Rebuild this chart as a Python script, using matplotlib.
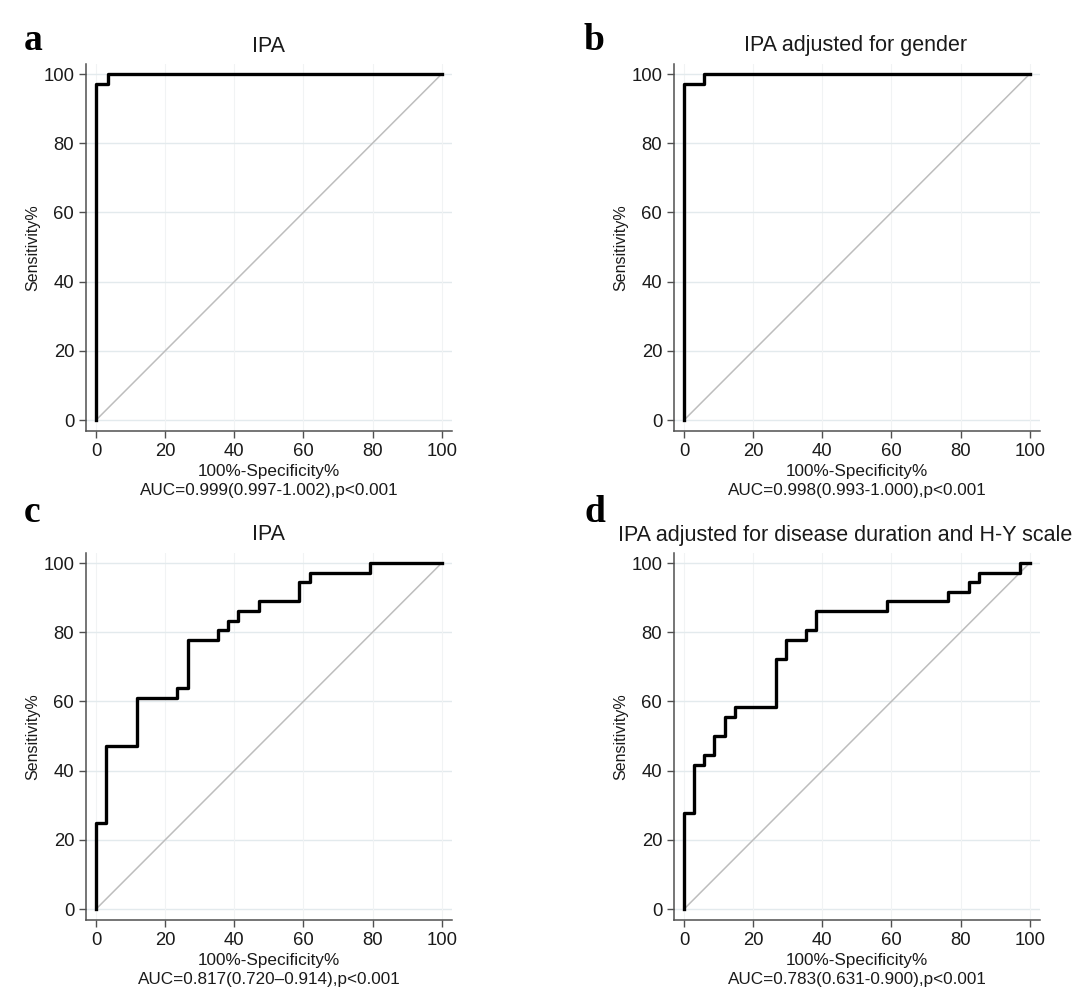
import matplotlib
matplotlib.use('Agg')
import matplotlib.pyplot as plt

plt.rcParams['font.family'] = ['Liberation Sans', 'DejaVu Sans']

W, H = 1080, 996

# ROC step coordinates (in %)
fpr_a = [0, 3.5, 100]
tpr_a = [0, 97.1, 100]

fpr_b = [0, 5.9, 100]
tpr_b = [0, 97.1, 100]

fpr_c = [0, 2.9, 11.8, 23.5, 26.5, 35.3, 38.2, 41.2, 47.1, 58.8, 61.8, 79.4, 100]
tpr_c = [0, 25.0, 47.2, 61.1, 63.9, 77.8, 80.6, 83.3, 86.1, 88.9, 94.4, 97.2, 100]

fpr_d = [0, 2.9, 5.9, 8.8, 11.8, 14.7, 26.5, 29.4, 35.3, 38.2, 58.8, 76.5, 82.4, 85.3, 97.1, 100]
tpr_d = [0, 27.8, 41.7, 44.4, 50.0, 55.6, 58.3, 72.2, 77.8, 80.6, 86.1, 88.9, 91.7, 94.4, 97.2, 100]

letters = ['a', 'b', 'c', 'd']
titles = ['IPA', 'IPA adjusted for gender', 'IPA',
          'IPA adjusted for disease duration and H-Y scale']
auc_texts = ['AUC=0.999(0.997-1.002),p<0.001',
             'AUC=0.998(0.993-1.000),p<0.001',
             'AUC=0.817(0.720\u20130.914),p<0.001',
             'AUC=0.783(0.631-0.900),p<0.001']
ticks = [0, 20, 40, 60, 80, 100]

GRID_COLOR = '#e3eaed'
VGRID_COLOR = '#f1f3f4'
SPINE_COLOR = '#505050'
DIAG_COLOR = '#bdbdbd'
TEXT_COLOR = '#1a1a1a'

# axes boxes in pixels: left, right, top, bottom
boxes = [(86, 452, 64, 430.5), (674, 1040, 64, 430.5),
         (86, 452, 553, 919.5), (674, 1040, 553, 919.5)]
letter_pos = [(24, 50), (584, 50), (24, 522), (584, 522)]
title_x = [269, 856, 269, 845]


def fx(px):
    return px / W


def fy(py):
    return 1 - py / H


fig = plt.figure(figsize=(W / 100, H / 100), dpi=100)

data = [(fpr_a, tpr_a), (fpr_b, tpr_b), (fpr_c, tpr_c), (fpr_d, tpr_d)]

for i, (fpr, tpr) in enumerate(data):
    l, r, t, b = boxes[i]
    ax = fig.add_axes([fx(l), fy(b), (r - l) / W, (b - t) / H])
    ax.set_xlim(-2.9, 103)
    ax.set_ylim(-3.0, 102.9)

    for v in ticks:
        ax.axhline(v, color=GRID_COLOR, lw=1, zorder=0)
        ax.axvline(v, color=VGRID_COLOR, lw=0.8, zorder=0)

    ax.plot([0, 100], [0, 100], color=DIAG_COLOR, lw=1.1, zorder=1)
    ax.plot(fpr, tpr, drawstyle='steps-pre', color='black', lw=2.4, zorder=2)

    ax.set_xticks(ticks)
    ax.set_yticks(ticks)
    ax.tick_params(axis='both', direction='out', length=5, width=1,
                   color=SPINE_COLOR, labelsize=13.3, labelcolor=TEXT_COLOR)
    ax.tick_params(axis='x', pad=4)
    ax.tick_params(axis='y', pad=3.5)
    for side in ('top', 'right'):
        ax.spines[side].set_visible(False)
    for side in ('left', 'bottom'):
        ax.spines[side].set_color(SPINE_COLOR)
        ax.spines[side].set_linewidth(1.1)

    ax.set_ylabel('Sensitivity%', fontsize=11.5, color=TEXT_COLOR, labelpad=2)

    cx = (l + r) / 2
    fig.text(fx(cx), fy(b + 41), '100%-Specificity%', ha='center', va='center',
             fontsize=12.3, color=TEXT_COLOR)
    fig.text(fx(cx), fy(b + 59.5), auc_texts[i], ha='center', va='center',
             fontsize=12.3, color=TEXT_COLOR)

    fig.text(fx(title_x[i]), fy(t - 18), titles[i], ha='center', va='center',
             fontsize=15.5, color=TEXT_COLOR)

    lx, ly = letter_pos[i]
    fig.text(fx(lx), fy(ly), letters[i], ha='left', va='baseline',
             fontsize=27, fontweight='bold',
             family=['Liberation Serif', 'DejaVu Serif'])

fig.savefig('out.png', dpi=100, facecolor='white')
